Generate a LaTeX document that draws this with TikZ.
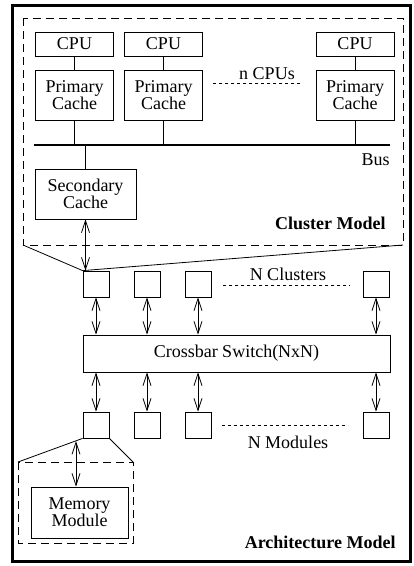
\documentclass[tikz,border=0pt]{standalone}
\usepackage{fontspec}
\setmainfont{Liberation Serif}
\usetikzlibrary{arrows.meta}

\begin{document}
\begin{tikzpicture}[x=1pt, y=-1pt, line width=0.8pt,
    >={Straight Barb[length=12pt, width=8pt]},
    every node/.style={font=\fontsize{18}{15.5}\selectfont, inner sep=0pt},
    unit/.style={draw, align=center},
    bold/.style={font=\fontsize{18}{15.5}\selectfont\bfseries},
    frame/.style={dash pattern=on 8pt off 5pt}]
    \useasboundingbox (0,0) rectangle (414,566);
    \draw[line width=3pt] (12,5) rectangle (410,561);

    % cluster model
    \draw[frame] (23,18) rectangle (403,245);
    \coordinate (cmBL) at (23,245);
    \coordinate (cmBR) at (403,245);
    \foreach \i/\x in {1/74.5, 2/163.5, 3/355} {
      \node[unit, minimum width=78pt, minimum height=24pt] (cpu\i) at (\x,44) {CPU};
      \node[unit, minimum width=78pt, minimum height=50pt] (pc\i) at (\x,95) {Primary\\Cache};
      \draw (cpu\i) -- (pc\i);
    }
    \coordinate (busW) at (34,145);
    \coordinate (busE) at (390,145);
    \draw[line width=2.5pt] (busW) -- (busE);
    \foreach \i in {1,2,3}
      \draw (pc\i) -- (pc\i |- busW);
    \node[anchor=east] (buslbl) at (390,160) {Bus};
    \node (ncpu) at (267,74) {n CPUs};
    \coordinate (ncpuW) at (213,83);
    \coordinate (ncpuE) at (302,83);
    \draw[dashed] (ncpuW) -- (ncpuE);
    \node[unit, minimum width=101pt, minimum height=50pt] (sc) at (85.5,194) {Secondary\\Cache};
    \draw (sc) -- (sc |- busW);
    \node[bold, anchor=east] (cmlbl) at (386,223) {Cluster Model};

    % architecture model
    \foreach \i/\x in {1/96, 2/147, 3/198, 4/376} {
      \node[unit, minimum size=26pt] (cl\i) at (\x,284) {};
      \node[unit, minimum size=26pt] (mo\i) at (\x,425) {};
    }
    \node[unit, minimum width=307pt, minimum height=37pt] (xbar) at (236.5,353.5) {Crossbar Switch(NxN)};
    \foreach \i in {1,...,4} {
      \draw[<->] (cl\i) -- (cl\i |- xbar.north);
      \draw[<->] (xbar.south -| mo\i) -- (mo\i);
    }
    \draw (cmBL) -- (cl1.north west) -- (cmBR);
    \draw[<->] (sc) -- (sc.south |- cl1.north);
    \node (nclu) at (288,274) {N Clusters};
    \coordinate (ncluW) at (223,285);
    \coordinate (ncluE) at (350,285);
    \draw[dashed] (ncluW) -- (ncluE);
    \node (nmod) at (288,442) {N Modules};
    \coordinate (nmodW) at (222,425);
    \coordinate (nmodE) at (348,425);
    \draw[dashed] (nmodW) -- (nmodE);

    % memory module
    \draw[frame] (18,462) rectangle (133,543);
    \coordinate (mmTL) at (18,462);
    \coordinate (mmTR) at (133,462);
    \draw (mmTL) -- (mo1.south west);
    \draw (mo1.south east) -- (mmTR);
    \node[unit, minimum width=97pt, minimum height=51pt] (mem) at (79.5,512.5) {Memory\\Module};
    \coordinate (mtap) at (76,441);
    \draw[<->] (mtap) -- (mtap |- mem.north);
    \node[bold, anchor=east] (amlbl) at (396,542) {Architecture Model};
\end{tikzpicture}
\end{document}
